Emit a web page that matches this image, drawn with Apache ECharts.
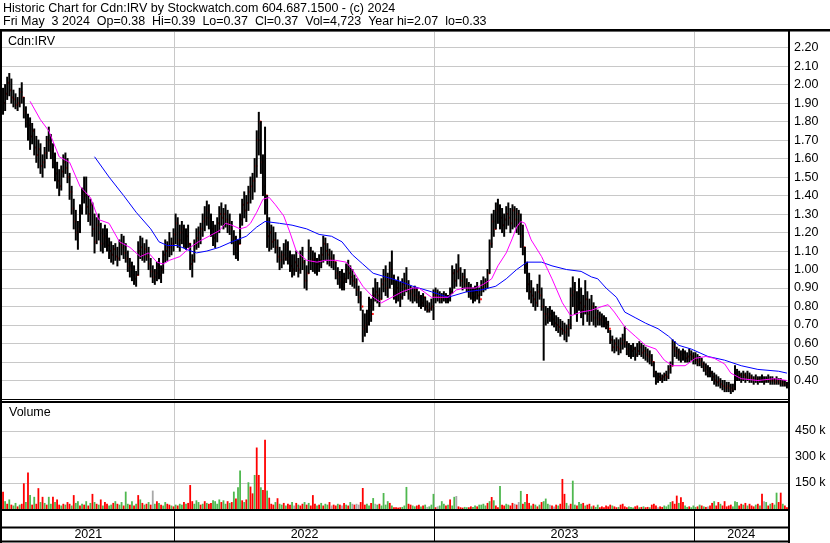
<!DOCTYPE html>
<html><head><meta charset="utf-8">
<script src="https://cdn.jsdelivr.net/npm/echarts@6/dist/echarts.min.js"></script>
<style>html,body{margin:0;padding:0;background:#fff}#c{width:830px;height:543px}</style>
</head><body><div id="c"></div>
<script>
const years = ['2021','2022','2023','2024'];
const yearStartBar = [0,83,208,333];
const priceTicks = {min:0.3, max:2.29, step:0.1};
const volTicks = {min:0, max:616, step:150, shown:[150,300,450]};

const highs = [
1.98,2.00,2.04,2.06,2.03,1.97,1.95,1.93,1.98,2.01,
1.93,1.88,1.84,1.82,1.79,1.76,1.72,1.70,1.68,1.62,
1.66,1.72,1.77,1.73,1.68,1.63,1.58,1.54,1.56,1.62,
1.63,1.60,1.52,1.45,1.38,1.32,1.26,1.35,1.44,1.50,
1.50,1.40,1.38,1.36,1.30,1.28,1.30,1.25,1.22,1.24,
1.22,1.17,1.15,1.13,1.14,1.12,1.16,1.19,1.18,1.14,
1.10,1.06,1.04,1.02,0.99,1.15,1.18,1.17,1.14,1.16,
1.12,1.06,1.02,1.00,1.04,1.06,1.02,1.10,1.16,1.15,
1.20,1.17,1.22,1.30,1.28,1.24,1.26,1.24,1.22,1.24,
1.14,1.08,1.16,1.22,1.23,1.25,1.30,1.34,1.37,1.35,
1.30,1.26,1.24,1.28,1.34,1.36,1.33,1.35,1.32,1.30,
1.26,1.21,1.18,1.16,1.30,1.38,1.42,1.40,1.45,1.50,
1.52,1.60,1.75,1.85,1.80,1.62,1.77,1.40,1.28,1.24,
1.23,1.20,1.16,1.12,1.10,1.14,1.16,1.15,1.10,1.08,
1.08,1.10,1.06,1.10,1.12,1.05,1.02,1.16,1.12,1.10,
1.09,1.06,1.08,1.12,1.18,1.17,1.14,1.11,1.10,1.08,
1.04,1.01,0.99,1.00,0.98,1.03,1.05,1.02,1.00,0.97,
0.95,0.91,0.88,0.78,0.76,0.78,0.85,0.84,0.90,0.95,
0.93,0.90,0.95,1.00,1.02,0.98,1.04,1.10,0.97,0.94,
0.96,0.93,0.95,0.98,1.01,0.94,0.91,0.90,0.91,0.90,
0.88,0.86,0.87,0.85,0.83,0.82,0.84,0.89,0.90,0.89,
0.88,0.87,0.88,0.87,0.86,0.90,1.02,1.00,1.03,1.08,
1.01,0.98,1.00,0.95,0.93,0.92,0.90,0.91,0.93,0.90,
0.94,0.96,0.95,1.00,1.16,1.30,1.32,1.36,1.38,1.35,
1.33,1.30,1.34,1.36,1.33,1.35,1.34,1.33,1.32,1.30,
1.24,1.12,1.04,0.98,0.94,0.90,0.88,0.92,0.97,0.90,
0.84,0.80,0.79,0.80,0.78,0.77,0.75,0.74,0.73,0.72,
0.71,0.70,0.73,0.90,0.96,0.93,0.88,0.95,0.90,0.86,
0.94,0.88,0.84,0.86,0.82,0.80,0.78,0.77,0.76,0.75,
0.74,0.72,0.67,0.64,0.62,0.63,0.62,0.63,0.65,0.69,
0.61,0.60,0.59,0.60,0.58,0.60,0.61,0.60,0.59,0.58,
0.57,0.56,0.54,0.50,0.45,0.44,0.44,0.43,0.44,0.45,
0.48,0.50,0.62,0.61,0.58,0.57,0.56,0.57,0.56,0.55,
0.57,0.56,0.55,0.55,0.54,0.53,0.52,0.50,0.49,0.48,
0.47,0.45,0.44,0.43,0.42,0.41,0.40,0.40,0.39,0.39,
0.38,0.38,0.48,0.46,0.45,0.44,0.45,0.44,0.45,0.44,
0.43,0.42,0.43,0.42,0.42,0.43,0.42,0.42,0.43,0.42,
0.42,0.41,0.42,0.41,0.41,0.40,0.40,0.39];

const lows = [
1.84,1.86,1.92,1.94,1.90,1.88,1.87,1.86,1.88,1.90,
1.82,1.77,1.70,1.65,1.68,1.62,1.58,1.55,1.52,1.50,
1.55,1.60,1.64,1.60,1.55,1.48,1.44,1.40,1.43,1.50,
1.52,1.47,1.38,1.30,1.22,1.16,1.11,1.20,1.30,1.36,
1.30,1.26,1.24,1.18,1.09,1.14,1.16,1.10,1.09,1.12,
1.10,1.06,1.04,1.03,1.05,1.02,1.05,1.08,1.06,1.04,
0.99,0.96,0.94,0.92,0.91,0.97,1.06,1.05,1.04,1.05,
1.00,0.96,0.93,0.92,0.94,0.95,0.93,0.98,1.04,1.05,
1.07,1.08,1.10,1.14,1.12,1.10,1.14,1.12,1.11,1.12,
1.00,0.96,1.04,1.11,1.12,1.14,1.18,1.21,1.24,1.22,
1.18,1.13,1.12,1.15,1.20,1.24,1.22,1.23,1.20,1.19,
1.14,1.08,1.06,1.05,1.14,1.24,1.28,1.26,1.32,1.36,
1.38,1.42,1.50,1.62,1.52,1.40,1.30,1.12,1.10,1.11,
1.12,1.09,1.04,1.00,1.01,1.03,1.05,1.03,0.99,0.96,
0.97,0.99,0.96,0.98,1.00,0.90,0.89,0.98,1.00,0.99,
0.98,0.97,0.99,1.01,1.04,1.05,1.03,1.02,1.01,1.00,
0.95,0.92,0.90,0.89,0.89,0.93,0.95,0.92,0.91,0.90,
0.86,0.82,0.78,0.61,0.64,0.66,0.70,0.72,0.78,0.83,
0.82,0.80,0.84,0.88,0.86,0.85,0.90,0.92,0.84,0.82,
0.83,0.80,0.84,0.86,0.88,0.84,0.83,0.82,0.83,0.82,
0.80,0.79,0.80,0.78,0.77,0.77,0.78,0.73,0.82,0.83,
0.82,0.82,0.83,0.82,0.82,0.83,0.87,0.90,0.91,0.95,
0.91,0.89,0.90,0.88,0.85,0.84,0.82,0.83,0.84,0.82,
0.86,0.88,0.89,0.90,0.98,1.12,1.18,1.22,1.25,1.22,
1.20,1.18,1.22,1.24,1.20,1.22,1.23,1.20,1.19,1.12,
1.08,0.98,0.88,0.84,0.82,0.80,0.78,0.80,0.84,0.78,
0.51,0.70,0.71,0.72,0.70,0.69,0.67,0.66,0.64,0.65,
0.62,0.61,0.64,0.68,0.80,0.76,0.72,0.78,0.74,0.70,
0.76,0.72,0.70,0.72,0.70,0.69,0.70,0.70,0.69,0.69,
0.68,0.66,0.60,0.56,0.55,0.56,0.54,0.55,0.57,0.58,
0.54,0.53,0.52,0.53,0.51,0.53,0.54,0.53,0.52,0.51,
0.50,0.49,0.48,0.42,0.38,0.39,0.40,0.39,0.40,0.40,
0.41,0.44,0.48,0.53,0.52,0.51,0.50,0.51,0.50,0.50,
0.50,0.51,0.49,0.49,0.48,0.48,0.47,0.45,0.43,0.42,
0.42,0.40,0.38,0.37,0.37,0.36,0.35,0.34,0.34,0.34,
0.33,0.34,0.35,0.40,0.40,0.39,0.40,0.39,0.40,0.39,
0.39,0.38,0.39,0.38,0.39,0.39,0.38,0.39,0.39,0.38,
0.38,0.38,0.38,0.38,0.37,0.37,0.37,0.36];

const closes = [
1.90,1.95,2.01,1.97,1.93,1.92,1.89,1.90,1.96,1.93,
1.85,1.80,1.78,1.72,1.75,1.66,1.62,1.65,1.56,1.58,
1.63,1.70,1.68,1.65,1.58,1.52,1.48,1.45,1.53,1.58,
1.55,1.50,1.42,1.33,1.26,1.20,1.22,1.33,1.42,1.40,
1.34,1.30,1.35,1.22,1.15,1.24,1.20,1.14,1.18,1.16,
1.13,1.10,1.08,1.11,1.07,1.06,1.14,1.12,1.09,1.06,
1.02,1.00,0.97,0.95,0.97,1.10,1.12,1.08,1.11,1.07,
1.03,0.99,0.96,0.98,1.01,0.97,1.00,1.08,1.10,1.12,
1.12,1.14,1.19,1.25,1.16,1.20,1.22,1.15,1.18,1.14,
1.03,1.05,1.14,1.17,1.20,1.22,1.26,1.28,1.32,1.27,
1.22,1.17,1.20,1.25,1.30,1.28,1.30,1.27,1.25,1.22,
1.17,1.12,1.10,1.14,1.27,1.35,1.32,1.36,1.42,1.45,
1.48,1.56,1.70,1.80,1.58,1.45,1.40,1.18,1.20,1.15,
1.16,1.12,1.07,1.05,1.08,1.06,1.12,1.06,1.02,1.00,
1.04,1.02,1.00,1.07,1.04,0.94,0.98,1.10,1.05,1.06,
1.02,1.03,1.05,1.08,1.14,1.10,1.08,1.06,1.05,1.04,
0.98,0.96,0.94,0.93,0.95,1.00,0.98,0.96,0.94,0.93,
0.89,0.85,0.80,0.68,0.70,0.72,0.80,0.76,0.86,0.88,
0.86,0.84,0.92,0.94,0.90,0.95,1.00,0.96,0.88,0.90,
0.87,0.85,0.92,0.90,0.92,0.87,0.88,0.86,0.89,0.85,
0.84,0.82,0.85,0.80,0.78,0.79,0.80,0.86,0.86,0.85,
0.84,0.85,0.86,0.84,0.85,0.88,0.98,0.94,0.99,1.00,
0.94,0.96,0.92,0.90,0.88,0.86,0.85,0.88,0.86,0.84,
0.90,0.92,0.93,0.98,1.14,1.26,1.22,1.32,1.30,1.28,
1.24,1.27,1.30,1.28,1.25,1.32,1.27,1.30,1.24,1.18,
1.12,1.02,0.92,0.88,0.86,0.84,0.82,0.88,0.86,0.80,
0.76,0.74,0.76,0.75,0.73,0.71,0.70,0.69,0.68,0.67,
0.66,0.68,0.70,0.86,0.88,0.80,0.84,0.82,0.78,0.80,
0.84,0.76,0.78,0.80,0.74,0.76,0.73,0.74,0.72,0.71,
0.70,0.68,0.62,0.58,0.60,0.58,0.57,0.60,0.62,0.60,
0.57,0.55,0.56,0.57,0.54,0.56,0.58,0.55,0.56,0.54,
0.53,0.51,0.50,0.44,0.41,0.42,0.41,0.42,0.43,0.42,
0.46,0.48,0.58,0.56,0.55,0.54,0.53,0.55,0.52,0.53,
0.54,0.53,0.52,0.51,0.50,0.51,0.49,0.47,0.45,0.44,
0.44,0.42,0.40,0.39,0.40,0.38,0.37,0.36,0.37,0.36,
0.35,0.36,0.44,0.42,0.43,0.41,0.43,0.42,0.41,0.42,
0.41,0.40,0.41,0.40,0.41,0.40,0.40,0.41,0.40,0.40,
0.40,0.39,0.40,0.39,0.39,0.38,0.38,0.37];

// volume in thousands of shares
const volumes = [
100,45,30,55,25,20,35,15,25,30,
148,40,210,80,25,70,30,120,40,70,
35,25,70,30,70,40,55,25,20,30,
25,40,30,20,80,35,45,20,30,25,
45,20,35,87,40,30,25,55,20,40,
30,20,25,35,45,30,25,40,20,100,
30,25,45,20,30,80,55,35,25,30,
40,25,106,30,45,35,25,20,40,30,
25,20,15,25,20,30,25,40,30,35,
138,45,30,50,40,25,30,45,35,30,
35,50,45,30,55,40,50,30,45,35,
40,100,60,125,221,50,40,55,154,129,
90,196,354,196,125,110,398,106,65,30,
25,40,62,30,25,35,20,30,25,40,
20,35,25,20,30,40,25,35,20,80,
30,20,25,35,20,30,25,40,20,25,
20,30,25,20,35,25,20,40,30,25,
30,25,40,121,25,30,20,35,63,30,
25,30,20,92,25,45,35,20,10,10,
8,10,12,20,127,30,25,20,15,20,
25,15,20,25,12,15,25,87,10,15,
20,45,30,20,25,55,20,70,75,15,
10,8,12,10,10,15,12,20,15,25,
25,30,20,35,45,69,50,20,10,133,
25,20,30,25,20,35,30,25,40,104,
30,40,87,35,20,30,25,15,25,40,
45,60,30,25,20,15,25,20,30,173,
87,35,20,30,163,25,20,40,30,35,
20,25,30,15,20,12,25,10,15,10,
20,15,25,20,15,10,12,25,30,15,
10,15,12,8,15,20,10,12,15,10,
12,10,25,30,20,10,15,12,20,15,
25,40,45,30,77,35,67,40,20,12,
15,10,20,12,15,25,20,15,12,15,
20,35,45,20,40,30,20,45,15,20,
25,15,45,40,20,30,25,35,20,30,
20,15,25,30,20,88,45,40,20,30,
35,25,94,40,94,30,20,10];

// g = up day, r = down day, x = unchanged
const volDir =
"rgrgrggrgr"+"rgrgrgrrgr"+"grggrgrrgr"+"grrgrggrgr"+"grgrgrgrgr"+
"rggrgrggrg"+"grgrgrgrgr"+"grxgrgrggr"+"rgrgrggrgr"+"rrgggrgrgr"+
"rggggrggrg"+"rgrggrgrgr"+"rgrrgrrgrr"+"rgrggrgrrg"+"xrgrrgrgrr"+
"rgrgrggrxr"+"rgrxrgrgxr"+"xxrrrggrgx"+"grggggrgrr"+"rrgggrrggr"+
"rgrgxgggrx"+"gggrgrggxr"+"rrggrrggrg"+"gggrgrgrrg"+"rrggrrxrxg"+
"rgrrgrgrgr"+"gggxrxrgrr"+"rgxrggrggr"+"grrgrggrrr"+"rrrgrrgrrr"+
"rgggrrgrgr"+"rgrrrxrrgg"+"ggrrrgrrgg"+"rgggrgrgrx"+"rrgrrgrrrr"+
"rgggrrgrgr"+"rrgrgrxgrg"+"rggrrgrr";

// moving averages: [bar index, value]
const maFast = [[13,1.91],[18,1.81],[22,1.75],[27,1.61],[32,1.58],[37,1.45],[42,1.39],[46,1.27],[51,1.25],[56,1.15],[61,1.12],[66,1.07],[70,1.09],[74,1.04],[77,1.03],[80,1.05],[85,1.07],[90,1.12],[94,1.15],[99,1.18],[104,1.21],[107,1.25],[110,1.24],[114,1.22],[117,1.23],[119,1.25],[122,1.31],[125,1.38],[128,1.39],[131,1.35],[135,1.29],[138,1.20],[141,1.10],[146,1.05],[151,1.04],[155,1.05],[160,1.05],[165,1.04],[168,1.00],[173,0.91],[178,0.85],[182,0.82],[187,0.85],[192,0.88],[197,0.90],[200,0.90],[206,0.85],[214,0.85],[218,0.89],[222,0.90],[227,0.90],[231,0.92],[235,0.95],[238,1.02],[242,1.09],[245,1.17],[247,1.23],[249,1.26],[251,1.25],[254,1.16],[259,1.07],[264,0.95],[269,0.82],[273,0.75],[278,0.77],[283,0.78],[288,0.80],[291,0.81],[294,0.77],[299,0.69],[304,0.64],[309,0.59],[314,0.57],[318,0.51],[322,0.48],[328,0.48],[333,0.52],[338,0.53],[342,0.52],[347,0.49],[350,0.44],[355,0.41],[363,0.40],[371,0.41],[377,0.40]];
const maSlow = [[44,1.61],[51,1.50],[58,1.40],[64,1.31],[71,1.22],[75,1.15],[79,1.13],[84,1.13],[88,1.11],[93,1.09],[98,1.10],[104,1.12],[110,1.15],[117,1.18],[122,1.23],[126,1.26],[133,1.25],[139,1.24],[146,1.22],[152,1.19],[158,1.18],[163,1.15],[168,1.08],[173,1.03],[178,0.98],[184,0.96],[190,0.94],[197,0.91],[206,0.88],[214,0.85],[223,0.88],[230,0.89],[237,0.91],[242,0.95],[247,1.00],[252,1.04],[259,1.04],[264,1.02],[271,1.00],[278,0.99],[283,0.96],[286,0.95],[290,0.90],[295,0.85],[299,0.77],[304,0.74],[309,0.71],[315,0.68],[320,0.64],[325,0.59],[331,0.57],[339,0.53],[347,0.51],[355,0.48],[363,0.46],[373,0.45],[377,0.44]];

const N = highs.length;
const categories = [];
for (let i = 0; i < N; i++) {
  let y = 0;
  for (let k = 0; k < yearStartBar.length; k++) if (i >= yearStartBar[k]) y = k;
  categories.push(years[y] + '-' + (i - yearStartBar[y] + 1));
}
const yearMid = yearStartBar.map((s, k) => Math.floor((s + (k + 1 < yearStartBar.length ? yearStartBar[k + 1] : N)) / 2));

const FONT = '"Liberation Sans", Arial, sans-serif';
const FS = 12.5;
const GRID = '#c8c8c8';
const volColors = {g: '#4fb84f', r: '#ff0000', x: '#a8a8a8'};

function xAxisDef(gi, sepColor, labels) {
  return {
    type: 'category', gridIndex: gi, data: categories, boundaryGap: true,
    axisLine: {show: false}, axisTick: {show: false},
    axisLabel: labels ? {
      show: true, inside: true, margin: 0, interval: (idx) => yearMid.includes(idx),
      formatter: (v) => v.split('-')[0], color: '#000', fontFamily: FONT, fontSize: FS
    } : {show: false},
    splitLine: {show: true, interval: (idx) => idx > 0 && yearStartBar.includes(idx),
      lineStyle: {color: sepColor, width: 1}}
  };
}

const chart = echarts.init(document.getElementById('c'), null, {renderer: 'canvas'});
chart.setOption({
  animation: false,
  backgroundColor: '#fff',
  grid: [
    {left: 2, right: 42, top: 31, height: 368},
    {left: 2, right: 42, top: 402, height: 107},
    {left: 2, right: 42, top: 509, height: 32}
  ],
  xAxis: [xAxisDef(0, GRID, false), xAxisDef(1, GRID, false), xAxisDef(2, '#000', true)],
  yAxis: [
    {type: 'value', gridIndex: 0, position: 'right', min: priceTicks.min, max: priceTicks.max, interval: priceTicks.step,
     axisLine: {show: false}, axisTick: {show: false},
     axisLabel: {margin: 6, color: '#000', fontFamily: FONT, fontSize: FS,
       formatter: (v) => (v > 0.35 && v < 2.25) ? v.toFixed(2) : ''},
     splitLine: {lineStyle: {color: GRID, width: 1}}},
    {type: 'value', gridIndex: 1, position: 'right', min: volTicks.min, max: volTicks.max, interval: volTicks.step,
     axisLine: {show: false}, axisTick: {show: false},
     axisLabel: {margin: 7, color: '#000', fontFamily: FONT, fontSize: FS,
       formatter: (v) => volTicks.shown.includes(Math.round(v)) ? Math.round(v) + ' k' : ''},
     splitLine: {lineStyle: {color: [GRID, GRID, GRID, GRID, 'rgba(0,0,0,0)', 'rgba(0,0,0,0)', 'rgba(0,0,0,0)'], width: 1}}},
    {type: 'value', gridIndex: 2, min: 0, max: 1, show: false}
  ],
  series: [
    {
      type: 'custom', xAxisIndex: 0, yAxisIndex: 0, z: 2,
      data: highs.map((h, i) => [i, h, lows[i], closes[i]]),
      encode: {x: 0, y: [1, 2, 3]},
      renderItem: function (params, api) {
        const i = api.value(0);
        const hi = api.coord([i, api.value(1)]);
        const lo = api.coord([i, api.value(2)]);
        const cl = api.coord([i, api.value(3)]);
        return {type: 'group', children: [
          {type: 'line', shape: {x1: hi[0], y1: hi[1] - 0.5, x2: lo[0], y2: lo[1] + 0.5},
           style: {stroke: '#000', lineWidth: 2}},
          {type: 'line', shape: {x1: cl[0] + 1, y1: cl[1], x2: cl[0] + 2.6, y2: cl[1]},
           style: {stroke: '#ff0000', lineWidth: 2}}
        ]};
      }
    },
    {type: 'line', xAxisIndex: 0, yAxisIndex: 0, data: maSlow, showSymbol: false, z: 4,
     lineStyle: {color: '#0000ff', width: 1}, itemStyle: {color: '#0000ff'}},
    {type: 'line', xAxisIndex: 0, yAxisIndex: 0, data: maFast, showSymbol: false, z: 5,
     lineStyle: {color: '#ff00ff', width: 1}, itemStyle: {color: '#ff00ff'}},
    {type: 'bar', xAxisIndex: 1, yAxisIndex: 1, barWidth: 1.8, z: 2,
     data: volumes.map((v, i) => ({value: v, itemStyle: {color: volColors[volDir[i]] || '#a8a8a8'}}))}
  ],
  graphic: [
    {type: 'rect', shape: {x: 0, y: 0, width: 830, height: 29}, style: {fill: '#fff'}, z: 100},
    {type: 'text', x: 3, y: 2, style: {text: 'Historic Chart for Cdn:IRV by Stockwatch.com 604.687.1500 - (c) 2024', font: FS + 'px ' + FONT, fill: '#000'}, z: 101},
    {type: 'text', x: 3, y: 15.5, style: {text: 'Fri May  3 2024  Op=0.38  Hi=0.39  Lo=0.37  Cl=0.37  Vol=4,723  Year hi=2.07  lo=0.33', font: FS + 'px ' + FONT, fill: '#000'}, z: 101},
    {type: 'rect', shape: {x: 0, y: 29, width: 830, height: 2.5}, style: {fill: '#000'}, z: 100},
    {type: 'text', x: 8, y: 35, style: {text: 'Cdn:IRV', font: FS + 'px ' + FONT, fill: '#000'}, z: 101},
    {type: 'text', x: 9, y: 406, style: {text: 'Volume', font: FS + 'px ' + FONT, fill: '#000'}, z: 101},
    {type: 'rect', shape: {x: 0, y: 29, width: 2, height: 514}, style: {fill: '#000'}, z: 100},
    {type: 'rect', shape: {x: 788, y: 29, width: 2, height: 514}, style: {fill: '#000'}, z: 100},
    {type: 'rect', shape: {x: 0, y: 399, width: 790, height: 1}, style: {fill: '#000'}, z: 100},
    {type: 'rect', shape: {x: 0, y: 401, width: 790, height: 2}, style: {fill: '#000'}, z: 100},
    {type: 'rect', shape: {x: 0, y: 509, width: 790, height: 2}, style: {fill: '#000'}, z: 100},
    {type: 'rect', shape: {x: 0, y: 526.5, width: 790, height: 2}, style: {fill: '#000'}, z: 100},
    {type: 'rect', shape: {x: 0, y: 540.5, width: 790, height: 2}, style: {fill: '#000'}, z: 100}
  ]
});
</script></body></html>
